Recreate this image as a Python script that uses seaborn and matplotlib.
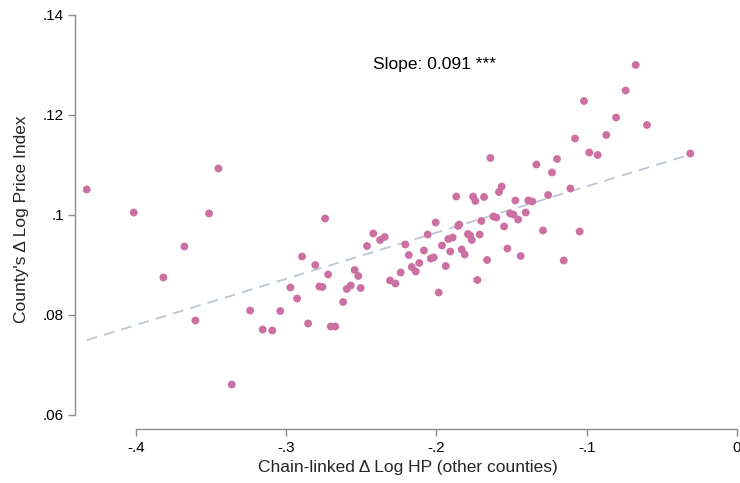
import matplotlib
matplotlib.use("Agg")
import matplotlib.pyplot as plt
import seaborn as sns
import pandas as pd

x_vals = [
    -0.4327, -0.4014, -0.3451, -0.3513, -0.3677, -0.3817, -0.3604, -0.3240, -0.3362,
    -0.2741, -0.2420, -0.2375, -0.2344, -0.2462, -0.2894, -0.2806, -0.2721, -0.2544,
    -0.2520, -0.2238, -0.2309, -0.2273, -0.2972, -0.2779, -0.2759, -0.2597, -0.2570,
    -0.2504, -0.2927, -0.2621, -0.3039, -0.2854, -0.2703, -0.2673, -0.3156, -0.3092,
    -0.1641, -0.1335, -0.1198, -0.1231, -0.1566, -0.1584, -0.1868, -0.1756, -0.1741,
    -0.1683, -0.1257, -0.1475, -0.1389, -0.1362, -0.1406, -0.1510, -0.1488, -0.1457,
    -0.1621, -0.1601, -0.1701, -0.1550, -0.2005, -0.1856, -0.1848, -0.1291, -0.2058,
    -0.1790, -0.1776, -0.1712, -0.1921, -0.1892, -0.1765, -0.2207, -0.1963, -0.2083,
    -0.1908, -0.1832, -0.1812, -0.1528, -0.2184, -0.2038, -0.2018, -0.2114, -0.1439,
    -0.1663, -0.2164, -0.2138, -0.1938, -0.1728, -0.1985,
    -0.0674, -0.0741, -0.1018, -0.0805, -0.0599, -0.1078, -0.0870, -0.0983, -0.0927,
    -0.0311, -0.1109, -0.1047, -0.1153,
]
y_vals = [
    0.1051, 0.1005, 0.1093, 0.1003, 0.0937, 0.0875, 0.0789, 0.0809, 0.0661,
    0.0993, 0.0963, 0.0950, 0.0956, 0.0938, 0.0917, 0.0900, 0.0881, 0.0890,
    0.0878, 0.0885, 0.0869, 0.0863, 0.0855, 0.0857, 0.0856, 0.0852, 0.0859,
    0.0854, 0.0833, 0.0826, 0.0808, 0.0783, 0.0777, 0.0777, 0.0771, 0.0769,
    0.1114, 0.1101, 0.1112, 0.1085, 0.1057, 0.1046, 0.1037, 0.1037, 0.1028,
    0.1036, 0.1040, 0.1029, 0.1029, 0.1027, 0.1005, 0.1003, 0.1001, 0.0991,
    0.0997, 0.0995, 0.0988, 0.0977, 0.0985, 0.0978, 0.0981, 0.0969, 0.0961,
    0.0962, 0.0959, 0.0961, 0.0952, 0.0955, 0.0950, 0.0941, 0.0939, 0.0929,
    0.0927, 0.0931, 0.0921, 0.0933, 0.0920, 0.0913, 0.0915, 0.0904, 0.0918,
    0.0910, 0.0896, 0.0887, 0.0898, 0.0870, 0.0845,
    0.1300, 0.1249, 0.1228, 0.1195, 0.1180, 0.1153, 0.1160, 0.1125, 0.1120,
    0.1123, 0.1053, 0.0967, 0.0909,
]
x_ticks = [-0.4, -0.3, -0.2, -0.1, 0.0]
x_ticklabels = ["-.4", "-.3", "-.2", "-.1", "0"]
y_ticks = [0.06, 0.08, 0.10, 0.12, 0.14]
y_ticklabels = [".06", ".08", ".1", ".12", ".14"]
annotation = "Slope: 0.091 ***"

df = pd.DataFrame({"x": x_vals, "y": y_vals})

sns.set_style("white")
plt.rcParams["font.family"] = ["Liberation Sans", "DejaVu Sans"]

fig = plt.figure(figsize=(7.4, 4.83), dpi=100)
ax = fig.add_axes([75 / 740, (483 - 429) / 483, 665 / 740, 419 / 483])

point_color = "#CC70A4"
line_color = "#BCC6D3"

sns.regplot(data=df, x="x", y="y", scatter=False, ci=None, ax=ax,
            line_kws=dict(color=line_color, lw=1.3, dashes=(6, 4)))
sns.scatterplot(data=df, x="x", y="y", ax=ax, color=point_color, s=32,
                edgecolor="none", linewidth=0, zorder=3)

ax.set_xlim(-0.4405, 0.0020)
ax.set_ylim(0.0572, 0.1410)

for s in ["top", "right"]:
    ax.spines[s].set_visible(False)
ax.spines["left"].set_bounds(0.06, 0.14)
ax.spines["bottom"].set_bounds(-0.4, 0.0)
for s in ["left", "bottom"]:
    ax.spines[s].set_color("#8c8c8c")
    ax.spines[s].set_linewidth(1.0)

ax.set_xticks(x_ticks)
ax.set_xticklabels(x_ticklabels)
ax.set_yticks(y_ticks)
ax.set_yticklabels(y_ticklabels)
ax.tick_params(axis="both", which="major", length=5, width=1.0, color="#8c8c8c",
               labelsize=11, labelcolor="black", direction="out",
               left=True, bottom=True)
ax.tick_params(axis="x", pad=4)
ax.tick_params(axis="y", pad=3)

ax.set_xlabel("Chain-linked \u0394 Log HP (other counties)", fontsize=12.5, labelpad=3)
ax.set_ylabel("County's \u0394 Log Price Index", fontsize=12.5, labelpad=10)

ax.text(-0.2422, 0.1300, annotation, fontsize=12.5, ha="left", va="center",
        color="black")

fig.savefig("out.png", dpi=100)
